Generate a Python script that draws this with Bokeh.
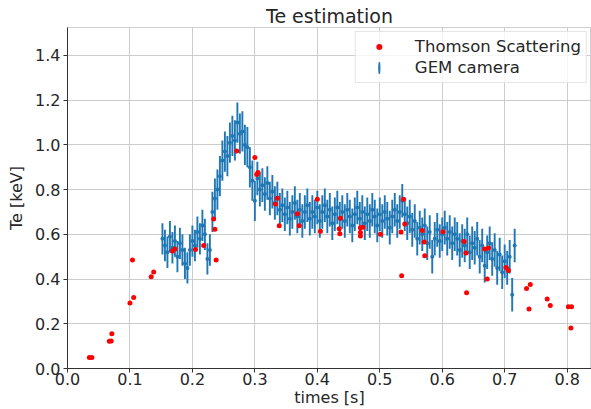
import numpy as np
from bokeh.plotting import figure
from bokeh.models import Range1d, FixedTicker, PrintfTickFormatter, Legend, LegendItem, ColumnDataSource
from bokeh.embed import file_html
from bokeh.resources import INLINE

# ---------------- data ----------------
ts_t = [0.035, 0.039, 0.067, 0.070, 0.071, 0.100, 0.104, 0.106, 0.134, 0.138,
        0.168, 0.172, 0.205, 0.218, 0.234, 0.236, 0.238, 0.271, 0.300, 0.303,
        0.305, 0.333, 0.336, 0.339, 0.368, 0.371, 0.400, 0.405, 0.437, 0.435,
        0.436, 0.469, 0.473, 0.469, 0.469, 0.501, 0.538, 0.540, 0.534, 0.535,
        0.568, 0.571, 0.572, 0.601, 0.635, 0.638, 0.639, 0.668, 0.674, 0.672,
        0.702, 0.706, 0.735, 0.741, 0.739, 0.768, 0.773, 0.802, 0.807, 0.806]
ts_te = [0.049, 0.049, 0.122, 0.123, 0.155, 0.293, 0.485, 0.317, 0.410, 0.432,
         0.526, 0.534, 0.532, 0.550, 0.669, 0.623, 0.485, 0.973, 0.944, 0.868,
         0.877, 0.736, 0.761, 0.638, 0.692, 0.638, 0.757, 0.614, 0.672, 0.625,
         0.603, 0.629, 0.632, 0.608, 0.593, 0.600, 0.757, 0.646, 0.611, 0.415,
         0.617, 0.566, 0.504, 0.612, 0.568, 0.516, 0.339, 0.534, 0.539, 0.400,
         0.452, 0.438, 0.358, 0.376, 0.266, 0.311, 0.282, 0.276, 0.276, 0.181]

gem_t = [0.152, 0.156, 0.160, 0.164, 0.168, 0.172, 0.176, 0.180, 0.184, 0.188,
         0.192, 0.196, 0.200, 0.204, 0.208, 0.212, 0.216, 0.220, 0.224, 0.228,
         0.232, 0.236, 0.240, 0.244, 0.248, 0.252, 0.256, 0.260, 0.264, 0.268,
         0.272, 0.276, 0.280, 0.284, 0.288, 0.292, 0.296, 0.300, 0.304, 0.308,
         0.312, 0.316, 0.320, 0.324, 0.328, 0.332, 0.336, 0.340, 0.344, 0.348,
         0.352, 0.356, 0.360, 0.364, 0.368, 0.372, 0.376, 0.380, 0.384, 0.388,
         0.392, 0.396, 0.400, 0.404, 0.408, 0.412, 0.416, 0.420, 0.424, 0.428,
         0.432, 0.436, 0.440, 0.444, 0.448, 0.452, 0.456, 0.460, 0.464, 0.468,
         0.472, 0.476, 0.480, 0.484, 0.488, 0.492, 0.496, 0.500, 0.504, 0.508,
         0.512, 0.516, 0.520, 0.524, 0.528, 0.532, 0.536, 0.540, 0.544, 0.548,
         0.552, 0.556, 0.560, 0.564, 0.568, 0.572, 0.576, 0.580, 0.584, 0.588,
         0.592, 0.596, 0.600, 0.604, 0.608, 0.612, 0.616, 0.620, 0.624, 0.628,
         0.632, 0.636, 0.640, 0.644, 0.648, 0.652, 0.656, 0.660, 0.664, 0.668,
         0.672, 0.676, 0.680, 0.684, 0.688, 0.692, 0.696, 0.700, 0.704, 0.708,
         0.712, 0.716]
gem_te = [0.58, 0.55, 0.52, 0.59, 0.54, 0.57, 0.50, 0.56, 0.53, 0.47,
          0.45, 0.53, 0.57, 0.55, 0.61, 0.58, 0.64, 0.60, 0.49, 0.53,
          0.70, 0.76, 0.80, 0.86, 0.93, 0.97, 0.95, 1.01, 1.04, 1.02,
          1.10, 1.05, 1.06, 1.00, 0.99, 0.90, 0.84, 0.75, 0.85, 0.80,
          0.82, 0.78, 0.83, 0.76, 0.79, 0.74, 0.76, 0.71, 0.73, 0.69,
          0.72, 0.67, 0.70, 0.74, 0.68, 0.71, 0.66, 0.70, 0.73, 0.67,
          0.70, 0.68, 0.72, 0.66, 0.70, 0.73, 0.68, 0.71, 0.65, 0.69,
          0.72, 0.67, 0.70, 0.66, 0.71, 0.68, 0.64, 0.69, 0.72, 0.67,
          0.70, 0.65, 0.69, 0.66, 0.71, 0.68, 0.64, 0.69, 0.66, 0.70,
          0.67, 0.63, 0.68, 0.71, 0.66, 0.70, 0.75, 0.69, 0.65, 0.68,
          0.62, 0.66, 0.58, 0.63, 0.60, 0.64, 0.56, 0.61, 0.50, 0.58,
          0.62, 0.57, 0.60, 0.63, 0.58, 0.61, 0.56, 0.60, 0.58, 0.53,
          0.57, 0.55, 0.60, 0.52, 0.56, 0.54, 0.58, 0.50, 0.55, 0.46,
          0.52, 0.56, 0.49, 0.53, 0.45, 0.51, 0.43, 0.48, 0.45, 0.50,
          0.33, 0.55]
gem_err = [0.07] * 20 + [0.09] * 18 + [0.075] * 104

x_ticks = [0.0, 0.1, 0.2, 0.3, 0.4, 0.5, 0.6, 0.7, 0.8]
y_ticks = [0.0, 0.2, 0.4, 0.6, 0.8, 1.0, 1.2, 1.4]

# ---------------- figure ----------------
FONT = "DejaVu Sans"
TXT = "#262626"
BLUE = "#1f77b4"

p = figure(width=591, height=409, output_backend="svg", toolbar_location=None,
           x_range=Range1d(0, 0.839), y_range=Range1d(0, 1.525),
           min_border_left=67, min_border_right=0, min_border_top=27, min_border_bottom=41,
           title="Te estimation")
p.title.align = "center"
p.title.text_font = FONT
p.title.text_font_size = "19px"
p.title.text_font_style = "normal"
p.title.text_color = TXT
p.title.standoff = 2
p.title.offset = 0

p.background_fill_color = "white"
p.border_fill_color = "white"
p.outline_line_color = "#cfcfcf"
p.outline_line_width = 1

for ax, ticks in ((p.xaxis, x_ticks), (p.yaxis, y_ticks)):
    ax.ticker = FixedTicker(ticks=ticks)
    ax.formatter = PrintfTickFormatter(format="%.1f")
    ax.major_label_text_font = FONT
    ax.major_label_text_font_size = "16px"
    ax.major_label_text_color = TXT
    ax.axis_label_text_font = FONT
    ax.axis_label_text_font_size = "16px"
    ax.axis_label_text_font_style = "normal"
    ax.axis_label_text_color = TXT
    ax.axis_line_color = "#333333"
    ax.axis_line_width = 1
    ax.major_tick_line_color = "#333333"
    ax.major_tick_out = 4
    ax.major_tick_in = 0
    ax.minor_tick_line_color = None

p.xaxis.major_label_standoff = 0
p.xaxis.axis_label_standoff = 0
p.yaxis.major_label_standoff = 3
p.yaxis.axis_label_standoff = 6

p.xaxis.axis_label = "times [s]"
p.yaxis.axis_label = "Te [keV]"

p.grid.grid_line_color = "#cccccc"
p.grid.grid_line_width = 1
p.xgrid.ticker = FixedTicker(ticks=x_ticks)
p.ygrid.ticker = FixedTicker(ticks=y_ticks)

# GEM camera error bars
gem_lo = [v - e for v, e in zip(gem_te, gem_err)]
gem_hi = [v + e for v, e in zip(gem_te, gem_err)]
gsrc = ColumnDataSource(dict(t=gem_t, te=gem_te, lo=gem_lo, hi=gem_hi))
p.segment(x0="t", y0="lo", x1="t", y1="hi", source=gsrc, line_color=BLUE, line_width=1.9)
p.scatter(x="t", y="te", source=gsrc, size=4, color=BLUE, line_color=None)

# Thomson scattering points
tsrc = ColumnDataSource(dict(t=ts_t, te=ts_te))
p.scatter(x="t", y="te", source=tsrc, size=5, color="red", line_color=None)

# legend proxies (off-screen)
r_ts = p.scatter(x=[-1.0], y=[-1.0], size=5, color="red", line_color=None)
r_gem = p.ellipse(x=[-1.0], y=[-1.0], width=2.2, height=22, width_units="screen",
                  height_units="screen", fill_color=BLUE, line_color=BLUE)

legend = Legend(items=[LegendItem(label="Thomson Scattering", renderers=[r_ts]),
                       LegendItem(label="GEM camera", renderers=[r_gem])],
                location="top_right", margin=4, padding=5, spacing=2,
                glyph_width=36, glyph_height=15, label_height=15, label_standoff=18,
                label_text_font=FONT, label_text_font_size="16.5px", label_text_color=TXT,
                border_line_color="#cccccc", border_line_width=1,
                background_fill_color="white", background_fill_alpha=0.8)
p.add_layout(legend)

open("out.html", "w").write(file_html(p, INLINE))
